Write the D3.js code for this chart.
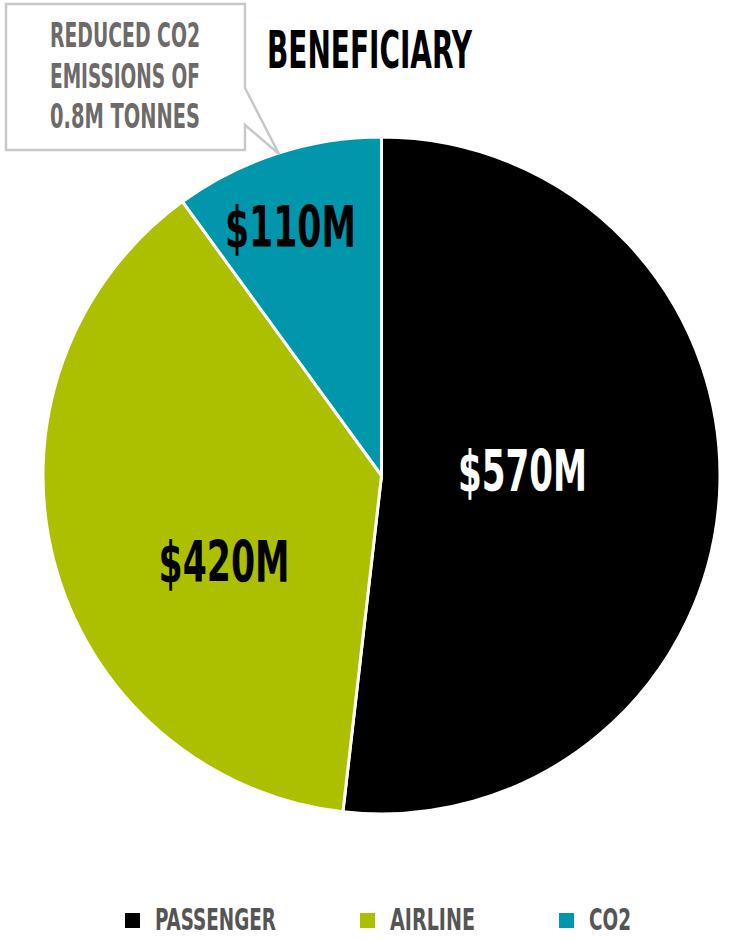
<!DOCTYPE html>
<html>
<head>
<meta charset="utf-8">
<script src="https://cdn.jsdelivr.net/npm/d3@7"></script>
<style>
  html, body { margin: 0; padding: 0; background: #fff; }
  svg { display: block; }
  text { font-family: "Liberation Sans Narrow", "DejaVu Sans Condensed", sans-serif; font-weight: bold; }
</style>
</head>
<body>
<svg id="chart"></svg>
<script>
// datos
const categories = ["PASSENGER", "AIRLINE", "CO2"];
const values = [570, 420, 110];
const valueLabels = ["$570M", "$420M", "$110M"];
const title = "BENEFICIARY";
const noteLines = ["REDUCED CO2", "EMISSIONS OF", "0.8M TONNES"];

// estilos
const colors = ["#000000", "#acc000", "#0096ac"];
const labelColors = ["#ffffff", "#000000", "#000000"];
const labelWidths = [129, 131, 131];
// posición de las etiquetas: fracción del radio y ajuste de ángulo (grados)
const labelRadius = [0.417, 0.53, 0.783];
const labelShift = [-5.5, -13.9, -2.1];
const legendWidths = [121, 85, 42];

const width = 730, height = 940;
const cx = 381.5, cy = 475.5, radius = 338.5;

const svg = d3.select("#chart")
    .attr("width", width)
    .attr("height", height);

const pie = d3.pie().sort(null).value(d => d);
const arcs = pie(values);

const arc = d3.arc().innerRadius(0).outerRadius(radius);

const g = svg.append("g").attr("transform", `translate(${cx},${cy})`);

g.selectAll(".slice")
    .data(arcs)
    .enter()
    .append("path")
    .attr("class", "slice")
    .attr("d", arc)
    .attr("fill", (d, i) => colors[i])
    .attr("stroke", "#fff")
    .attr("stroke-width", 3)
    .attr("stroke-linejoin", "round");

// etiquetas de valores (centradas en el punto calculado)
g.selectAll(".value-label")
    .data(arcs)
    .enter()
    .append("text")
    .attr("class", "value-label")
    .attr("transform", (d, i) => {
        const a = (d.startAngle + d.endAngle) / 2 + labelShift[i] * Math.PI / 180;
        const r = radius * labelRadius[i];
        return `translate(${r * Math.sin(a)},${-r * Math.cos(a)})`;
    })
    .attr("text-anchor", "middle")
    .attr("dy", "0.36em")
    .attr("font-size", 57)
    .attr("textLength", (d, i) => labelWidths[i])
    .attr("lengthAdjust", "spacingAndGlyphs")
    .attr("fill", (d, i) => labelColors[i])
    .text((d, i) => valueLabels[i]);

// título
svg.append("text")
    .attr("x", 267)
    .attr("y", 68)
    .attr("font-size", 51)
    .attr("textLength", 205)
    .attr("lengthAdjust", "spacingAndGlyphs")
    .attr("fill", "#000")
    .text(title);

// globo de nota
svg.append("path")
    .attr("d", "M6,4 H245 V88 L279,154 L245,125 V150 H6 Z")
    .attr("fill", "#fff")
    .attr("stroke", "#c8c8c8")
    .attr("stroke-width", 2.5)
    .attr("stroke-linejoin", "miter");

svg.append("g")
    .selectAll("text")
    .data(noteLines)
    .enter()
    .append("text")
    .attr("x", 125)
    .attr("y", (d, i) => 47 + i * 40.5)
    .attr("text-anchor", "middle")
    .attr("font-size", 33)
    .attr("textLength", 150)
    .attr("lengthAdjust", "spacingAndGlyphs")
    .attr("fill", "#6d6a68")
    .text(d => d);

// leyenda: posiciones acumuladas según el ancho del texto
const legendGap = 84, legendTextOffset = 30;
const legendPos = [];
categories.forEach((c, i) => {
    legendPos.push(i === 0 ? 125 : legendPos[i - 1] + legendTextOffset + legendWidths[i - 1] + legendGap);
});

const legend = svg.append("g")
    .selectAll(".legend-item")
    .data(categories)
    .enter()
    .append("g")
    .attr("class", "legend-item")
    .attr("transform", (d, i) => `translate(${legendPos[i]},0)`);

legend.append("rect")
    .attr("x", 0)
    .attr("y", 913)
    .attr("width", 15)
    .attr("height", 15)
    .attr("fill", (d, i) => colors[i]);

legend.append("text")
    .attr("x", legendTextOffset)
    .attr("y", 930)
    .attr("font-size", 31)
    .attr("textLength", (d, i) => legendWidths[i])
    .attr("lengthAdjust", "spacingAndGlyphs")
    .attr("fill", "#555")
    .text(d => d);
</script>
</body>
</html>
